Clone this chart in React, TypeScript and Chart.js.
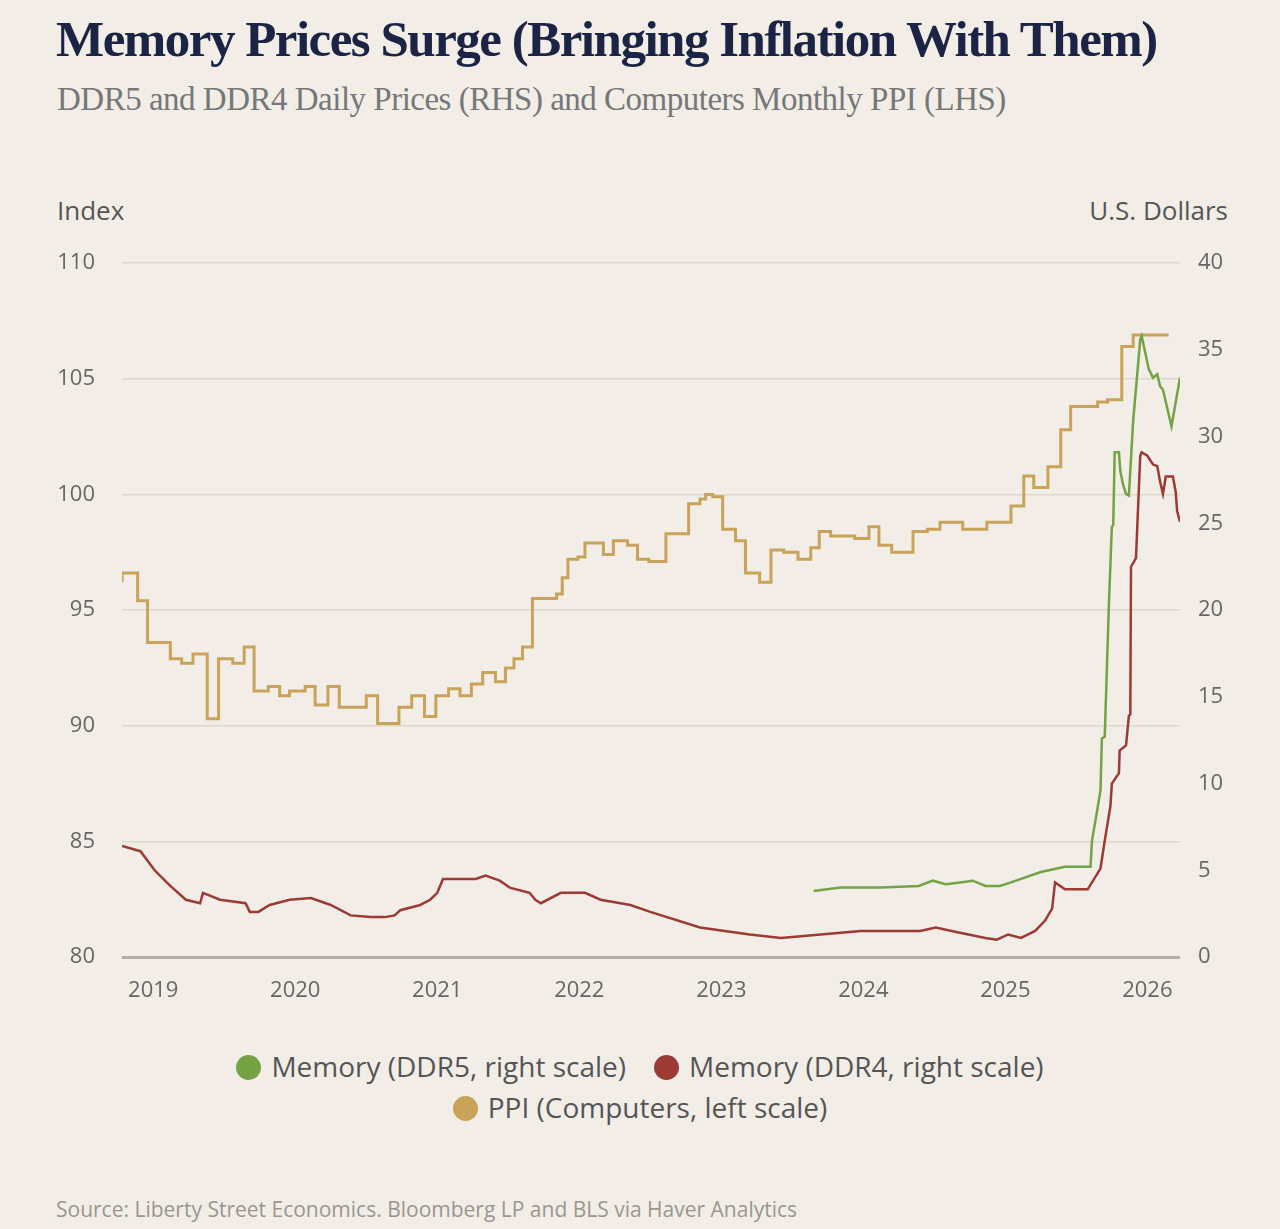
import React, { useEffect, useRef } from "react";
import { Chart, registerables } from "chart.js";
Chart.register(...registerables);

const ppiX = [2018.78,2018.89,2018.96,2019.12,2019.20,2019.28,2019.38,2019.46,2019.56,2019.64,2019.71,2019.81,2019.89,2019.96,2020.07,2020.14,2020.23,2020.31,2020.50,2020.58,2020.73,2020.82,2020.91,2020.99,2021.08,2021.16,2021.24,2021.32,2021.41,2021.48,2021.54,2021.60,2021.67,2021.84,2021.88,2021.92,2021.99,2022.04,2022.17,2022.24,2022.34,2022.41,2022.49,2022.61,2022.77,2022.85,2022.89,2022.94,2023.01,2023.10,2023.17,2023.27,2023.35,2023.44,2023.54,2023.63,2023.69,2023.77,2023.94,2024.04,2024.11,2024.20,2024.35,2024.45,2024.54,2024.70,2024.87,2025.04,2025.13,2025.20,2025.30,2025.39,2025.46,2025.65,2025.72,2025.82,2025.90,2025.97,2026.15];
const ppiY = [96.2,96.6,95.4,93.6,92.9,92.7,93.1,90.3,92.9,92.7,93.4,91.5,91.7,91.3,91.5,91.7,90.9,91.7,90.8,91.3,90.1,90.8,91.3,90.4,91.3,91.6,91.3,91.8,92.3,91.9,92.5,92.9,93.4,95.5,95.7,96.4,97.2,97.3,97.9,97.4,98.0,97.8,97.2,97.1,98.3,99.6,99.8,100.0,99.9,98.5,98.0,96.6,96.2,97.6,97.5,97.2,97.7,98.4,98.2,98.1,98.6,97.8,97.5,98.4,98.5,98.8,98.5,98.8,99.5,100.8,100.3,101.2,102.8,103.8,104.0,104.1,106.4,106.9,106.9];

const ddr4X = [2018.78,2018.91,2019.01,2019.12,2019.23,2019.33,2019.35,2019.47,2019.65,2019.68,2019.74,2019.82,2019.96,2020.11,2020.25,2020.39,2020.53,2020.63,2020.70,2020.74,2020.88,2020.95,2021.00,2021.04,2021.27,2021.34,2021.44,2021.51,2021.65,2021.69,2021.73,2021.87,2022.04,2022.15,2022.36,2022.50,2022.85,2023.20,2023.42,2023.56,2023.98,2024.40,2024.51,2024.68,2024.86,2024.94,2025.02,2025.11,2025.21,2025.28,2025.33,2025.35,2025.42,2025.58,2025.67,2025.70,2025.74,2025.75,2025.80,2025.805,2025.85,2025.87,2025.88,2025.885,2025.92,2025.95,2025.96,2026.00,2026.04,2026.07,2026.09,2026.11,2026.13,2026.18,2026.20,2026.21,2026.23];
const ddr4Y = [6.4,6.1,5.0,4.1,3.3,3.1,3.7,3.3,3.1,2.6,2.6,3.0,3.3,3.4,3.0,2.4,2.3,2.3,2.4,2.7,3.0,3.3,3.7,4.5,4.5,4.7,4.4,4.0,3.7,3.3,3.1,3.7,3.7,3.3,3.0,2.6,1.7,1.3,1.1,1.2,1.5,1.5,1.7,1.4,1.1,1.0,1.3,1.1,1.5,2.1,2.8,4.3,3.9,3.9,5.1,6.7,8.7,10.0,10.6,11.9,12.2,13.9,14.0,22.5,23.0,28.9,29.1,28.9,28.4,28.3,27.4,26.7,27.7,27.7,26.8,25.7,25.1];

const ddr5X = [2023.65,2023.84,2024.12,2024.39,2024.49,2024.58,2024.68,2024.77,2024.86,2024.96,2025.04,2025.25,2025.42,2025.60,2025.61,2025.65,2025.67,2025.68,2025.70,2025.73,2025.75,2025.76,2025.77,2025.80,2025.81,2025.83,2025.85,2025.87,2025.90,2025.95,2025.96,2026.01,2026.04,2026.07,2026.09,2026.11,2026.17,2026.23];
const ddr5Y = [3.8,4.0,4.0,4.1,4.4,4.2,4.3,4.4,4.1,4.1,4.3,4.9,5.2,5.2,6.7,8.6,9.6,12.6,12.7,20.5,24.8,24.9,29.1,29.1,28.0,27.2,26.7,26.6,30.9,35.6,35.8,33.9,33.4,33.6,32.9,32.7,30.6,33.4];

const yearTicks = [2019, 2020, 2021, 2022, 2023, 2024, 2025, 2026];
const leftTicks = [80, 85, 90, 95, 100, 105, 110];
const rightTicks = [0, 5, 10, 15, 20, 25, 30, 35, 40];

const C_PPI = "#c9a35a";
const C_DDR4 = "#9c3a33";
const C_DDR5 = "#74a244";
const SANS = "'Open Sans', 'Noto Sans', sans-serif";

const zip = (xs: number[], ys: number[]) => xs.map((x, i) => ({ x, y: ys[i] }));

export default function App() {
  const ref = useRef<HTMLCanvasElement>(null);
  useEffect(() => {
    document.body.style.margin = "0";
    const tickFont = { family: SANS, size: 22 };
    const chart = new Chart(ref.current!, {
      type: "line",
      data: {
        datasets: [
          { label: "DDR5", data: zip(ddr5X, ddr5Y), yAxisID: "y1", borderColor: C_DDR5, borderWidth: 2.5, pointRadius: 0, tension: 0 },
          { label: "DDR4", data: zip(ddr4X, ddr4Y), yAxisID: "y1", borderColor: C_DDR4, borderWidth: 2.5, pointRadius: 0, tension: 0 },
          { label: "PPI", data: zip(ppiX, ppiY), yAxisID: "y", borderColor: C_PPI, borderWidth: 3, pointRadius: 0, stepped: "after" },
        ],
      },
      options: {
        animation: false,
        responsive: false,
        layout: { padding: { top: 24, left: 0, right: 0, bottom: 0 } },
        plugins: { legend: { display: false }, tooltip: { enabled: false } },
        scales: {
          x: {
            type: "linear", min: 2018.78, max: 2026.23,
            afterBuildTicks: (s: any) => { s.ticks = yearTicks.map((v) => ({ value: v })); },
            afterFit: (s: any) => { s.height = 63; },
            grid: { display: false },
            border: { display: false },
            ticks: { font: tickFont, color: "#666", padding: 13, callback: (v: any) => String(v) },
          },
          y: {
            position: "left", min: 80, max: 110,
            afterBuildTicks: (s: any) => { s.ticks = leftTicks.map((v) => ({ value: v })); },
            afterFit: (s: any) => { s.width = 122; },
            grid: { color: (c: any) => (c.tick && c.tick.value === 80 ? "#b3aea5" : "#dcd8cb"), lineWidth: (c: any) => (c.tick && c.tick.value === 80 ? 3 : 1.5), drawTicks: false },
            border: { display: false },
            ticks: { font: tickFont, color: "#666", padding: 27 },
          },
          y1: {
            position: "right", min: 0, max: 40,
            afterBuildTicks: (s: any) => { s.ticks = rightTicks.map((v) => ({ value: v })); },
            afterFit: (s: any) => { s.width = 100; },
            grid: { display: false, drawTicks: false },
            border: { display: false },
            ticks: { font: tickFont, color: "#666", padding: 18 },
          },
        },
      },
    });
    return () => chart.destroy();
  }, []);

  const dot = (c: string) => (
    <span style={{ display: "inline-block", width: 25, height: 25, borderRadius: 13, background: c, marginRight: 10, verticalAlign: "-3px" }} />
  );
  const abs = (s: React.CSSProperties): React.CSSProperties => ({ position: "absolute", margin: 0, ...s });

  return (
    <div style={{ position: "relative", width: 1280, height: 1229, background: "#f2eee7", overflow: "hidden" }}>
      <div style={abs({ left: 56, top: 10, fontFamily: "'Liberation Serif', serif", fontWeight: 700, fontSize: 51, color: "#1b2444", letterSpacing: -1.5, whiteSpace: "nowrap" })}>
        Memory Prices Surge (Bringing Inflation With Them)
      </div>
      <div style={abs({ left: 57, top: 81, fontFamily: "'Liberation Serif', serif", fontSize: 33, color: "#777", letterSpacing: -0.5, whiteSpace: "nowrap" })}>
        DDR5 and DDR4 Daily Prices (RHS) and Computers Monthly PPI (LHS)
      </div>
      <div style={abs({ left: 57, top: 192, fontFamily: SANS, fontSize: 26, color: "#555" })}>Index</div>
      <div style={abs({ right: 52, top: 192, fontFamily: SANS, fontSize: 26, color: "#555" })}>U.S. Dollars</div>
      <canvas ref={ref} width={1280} height={797} style={abs({ left: 0, top: 223, width: 1280, height: 797 })} />
      <div style={abs({ left: 0, width: 1280, top: 1046, textAlign: "center", fontFamily: SANS, fontSize: 28, color: "#555", lineHeight: "41px" })}>
        <div>
          {dot(C_DDR5)}Memory (DDR5, right scale)<span style={{ display: "inline-block", width: 28 }} />
          {dot(C_DDR4)}Memory (DDR4, right scale)
        </div>
        <div>{dot(C_PPI)}PPI (Computers, left scale)</div>
      </div>
      <div style={abs({ left: 56, top: 1195, fontFamily: SANS, fontSize: 21, color: "#9a968f" })}>
        Source: Liberty Street Economics. Bloomberg LP and BLS via Haver Analytics
      </div>
    </div>
  );
}
